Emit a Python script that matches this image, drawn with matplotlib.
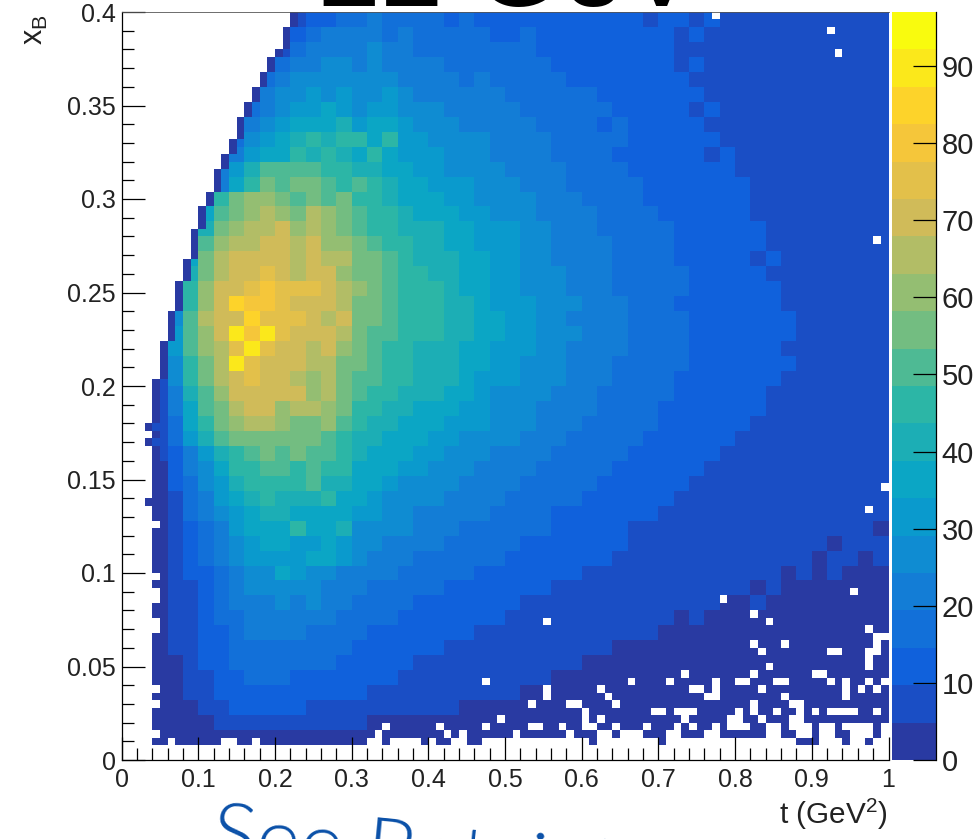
import numpy as np
import matplotlib
matplotlib.use("Agg")
import matplotlib.pyplot as plt
from matplotlib.colors import LinearSegmentedColormap, ListedColormap, BoundaryNorm

plt.rcParams['font.family'] = ['Liberation Sans', 'DejaVu Sans']
plt.rcParams['mathtext.default'] = 'regular'

W, H = 980, 839

# counts, 2x2 bin blocks, top row (x_B = 0.4) first
counts = [
 [0,0,0,0,0, 0,0,0,0,0, 0,5,11,14,16, 19,20,17,15,17, 16,14,15,14,12, 14,13,12,14,11, 12,12,10,12,9, 11,10,8,10,7, 9,8,7,9,6, 8,7,6,5,8],
 [0,0,0,0,0, 0,0,0,0,0, 4,14,18,20,22, 21,22,18,20,18, 16,18,15,16,14, 14,16,13,14,12, 13,11,12,10,11, 10,8,10,8,8, 9,6,8,7,5, 7,5,6,8,5],
 [0,0,0,0,0, 0,0,0,0,0, 8,18,22,24,23, 22,25,20,21,19, 18,17,18,15,17, 15,16,13,14,13, 12,13,10,12,10, 10,9,8,9,7, 8,7,7,5,7, 6,7,5,6,7],
 [0,0,0,0,0, 0,0,0,0,6, 15,22,24,25,26, 23,27,22,22,20, 20,18,19,17,18, 16,15,16,13,14, 14,12,13,11,11, 11,8,10,9,8, 8,6,8,7,6, 7,6,5,7,5],
 [0,0,0,0,0, 0,0,0,8,18, 24,26,28,29,27, 25,27,27,23,22, 22,21,19,20,18, 17,18,15,16,14, 14,13,13,11,12, 10,11,9,9,8, 8,7,7,6,7, 6,7,6,5,6],
 [0,0,0,0,0, 0,0,0,10,22, 26,28,31,29,32, 28,27,30,25,24, 24,22,22,20,20, 19,18,17,15,16, 15,14,12,13,12, 11,10,10,9,8, 9,8,6,7,7, 6,8,5,6,6],
 [0,0,0,0,0, 0,0,7,16,24, 29,31,33,36,31, 29,33,30,28,25, 25,24,22,21,22, 20,19,18,17,15, 15,15,13,13,11, 12,11,9,10,8, 9,7,8,6,7, 8,6,6,7,5],
 [0,0,0,0,0, 0,0,9,20,28, 32,35,38,34,40, 33,35,38,31,28, 27,26,24,23,21, 21,20,18,18,16, 17,14,15,13,13, 12,10,11,9,9, 8,9,7,8,6, 7,7,6,5,7],
 [0,0,0,0,0, 0,6,18,26,32, 35,40,44,42,44, 48,36,48,33,31, 28,28,25,25,22, 22,20,20,17,18, 16,15,15,13,12, 12,11,10,10,8, 9,8,8,6,7, 7,6,7,6,5],
 [0,0,0,0,0, 0,9,22,32,36, 38,46,42,46,41, 38,44,35,33,30, 30,28,26,25,23, 23,21,20,19,18, 17,16,14,14,13, 13,11,11,9,10, 8,9,7,8,6, 8,6,7,6,6],
 [0,0,0,0,0, 6,20,30,42,50, 52,50,52,46,44, 42,40,38,34,32, 31,29,28,26,25, 24,23,21,20,18, 18,16,16,14,14, 13,12,11,10,10, 9,9,8,8,7, 8,7,6,7,6],
 [0,0,0,0,0, 8,24,36,48,54, 52,55,58,50,48, 52,44,42,38,35, 33,32,30,28,26, 26,24,22,21,19, 19,17,17,15,14, 14,12,12,11,10, 10,9,9,7,8, 8,7,7,6,7],
 [0,0,0,0,6, 28,44,54,60,60, 58,52,58,50,54, 44,46,40,38,36, 35,33,31,29,27, 27,25,23,20,21, 19,18,16,16,14, 14,13,11,11,10, 11,9,8,8,8, 7,8,6,7,6],
 [0,0,0,0,8, 34,50,58,62,64, 60,58,64,60,56, 50,46,44,41,38, 37,36,32,31,29, 29,26,24,23,21, 20,19,17,16,15, 14,14,12,11,10, 11,9,9,8,8, 8,7,7,6,7],
 [0,0,0,0,10, 40,56,62,64,66, 68,62,66,60,56, 52,48,46,43,40, 40,37,34,32,30, 30,27,25,23,22, 21,19,18,16,16, 15,13,13,11,11, 10,10,9,8,8, 8,8,6,7,7],
 [0,0,0,8,30, 50,60,64,66,70, 70,66,70,62,60, 56,50,48,45,42, 42,38,36,33,31, 30,28,26,24,23, 21,20,18,17,15, 15,14,12,12,11, 11,10,9,8,9, 8,7,8,7,6],
 [0,0,0,10,34, 54,64,68,70,72, 70,66,70,66,64, 58,54,50,46,43, 42,39,37,34,31, 31,28,27,24,23, 22,20,18,17,16, 15,14,13,12,11, 11,9,10,8,8, 8,8,7,7,6],
 [0,0,0,13,40, 58,66,70,68,76, 70,66,68,68,62, 58,56,50,46,44, 43,41,37,35,32, 31,29,27,25,23, 22,20,19,17,16, 15,15,13,12,11, 11,10,9,9,9, 8,8,7,7,7],
 [0,0,5,20,46, 60,68,72,76,78, 74,74,74,70,66, 60,54,50,46,44, 45,41,37,36,33, 31,29,28,25,24, 22,21,19,17,17, 16,15,13,13,11, 12,10,10,9,9, 8,9,7,7,7],
 [0,0,6,24,48, 62,70,86,78,78, 74,72,70,68,64, 58,54,52,48,45, 45,41,39,36,33, 32,30,28,25,25, 22,21,20,18,17, 16,14,14,13,12, 11,11,10,9,9, 9,8,8,7,7],
 [0,0,8,28,50, 64,68,72,84,76, 76,74,68,66,68, 56,54,50,48,46, 46,43,39,37,35, 33,31,27,27,24, 23,21,20,18,17, 16,16,14,13,12, 12,11,10,10,9, 9,8,9,7,7],
 [0,0,10,30,52, 62,68,90,80,90, 76,72,70,68,64, 56,52,50,46,45, 44,41,39,36,34, 32,30,28,26,25, 23,21,20,18,18, 16,15,14,13,12, 12,11,10,10,9, 9,9,8,8,7],
 [0,0,12,30,50, 60,66,76,88,76, 70,70,64,68,60, 54,50,48,46,43, 43,41,38,35,33, 32,30,28,26,24, 23,21,20,18,17, 16,15,14,13,12, 11,11,11,9,9, 9,8,8,8,7],
 [0,0,10,28,46, 58,66,88,74,72, 70,70,64,66,58, 54,50,48,44,42, 42,40,37,34,32, 30,29,27,25,24, 22,21,19,18,16, 16,15,14,12,12, 12,10,10,10,9, 9,8,8,7,8],
 [0,0,9,26,44, 56,64,70,74,70, 72,64,62,66,58, 52,50,46,44,41, 40,39,36,33,31, 30,28,26,25,22, 22,20,18,17,16, 15,14,13,12,11, 11,10,10,9,9, 8,8,8,8,7],
 [0,0,8,24,42, 52,62,68,72,68, 68,68,62,64,56, 50,48,44,42,40, 40,36,34,33,29, 28,27,25,23,22, 21,19,18,17,15, 15,14,13,11,11, 11,10,9,9,9, 8,8,7,8,7],
 [0,0,7,20,38, 50,58,64,68,68, 60,64,64,60,54, 48,44,42,40,38, 37,36,33,30,29, 27,26,24,23,21, 20,18,17,16,15, 14,13,12,12,11, 10,10,9,9,8, 8,7,8,7,7],
 [0,2,5,18,34, 46,54,60,64,64, 62,56,58,62,50, 46,42,40,38,36, 35,33,31,30,27, 26,25,23,21,20, 19,18,16,15,15, 13,13,12,11,10, 10,9,9,8,8, 8,7,7,7,6],
 [0,2,5,16,30, 42,50,56,58,58, 56,54,56,50,48, 42,40,38,36,34, 33,32,29,28,26, 25,24,22,20,19, 18,17,16,15,14, 13,12,11,11,10, 9,9,8,8,7, 8,7,6,7,6],
 [0,2,5,13,23, 32,40,48,50,54, 52,56,52,50,46, 40,38,38,34,32, 30,29,27,27,24, 23,22,20,19,18, 17,16,15,14,13, 12,12,11,10,9, 9,9,8,7,8, 7,7,6,6,6],
 [0,2,4,12,21, 28,36,44,48,50, 52,48,50,46,44, 38,36,34,33,30, 28,27,26,24,22, 22,20,19,18,16, 16,15,14,13,12, 12,11,10,9,9, 8,8,8,7,7, 7,6,7,6,5],
 [0,2,4,10,19, 25,32,40,44,48, 46,44,50,42,42, 36,34,32,29,27, 27,25,24,22,21, 20,19,17,16,16, 15,14,13,12,11, 11,10,9,9,8, 8,7,8,6,7, 6,6,6,6,5],
 [0,2,4,9,17, 22,30,36,40,44, 42,40,42,44,38, 34,32,29,29,26, 25,24,22,21,20, 18,18,16,15,15, 13,14,12,11,10, 10,9,9,8,8, 7,8,6,7,6, 6,6,5,6,5],
 [0,2,3,8,15, 20,27,33,38,40, 40,38,37,36,34, 30,30,27,26,24, 23,22,21,20,18, 18,15,15,14,13, 12,12,11,10,10, 9,9,8,8,7, 7,6,7,6,6, 5,6,5,5,6],
 [0,2,3,8,13, 18,24,30,34,36, 38,46,34,36,40, 28,27,25,25,22, 21,21,19,19,17, 16,15,15,13,12, 12,11,11,9,9, 9,8,8,7,7, 6,7,5,6,5, 6,5,5,6,4],
 [0,2,3,7,12, 16,22,28,32,34, 34,33,32,38,32, 26,25,24,22,21, 20,19,19,17,16, 15,14,13,13,12, 11,10,10,9,9, 8,8,7,7,6, 6,6,6,5,5, 6,4,5,5,5],
 [0,2,3,6,11, 15,20,26,30,32, 32,30,34,38,32, 25,24,22,21,19, 19,18,16,16,15, 14,14,12,11,11, 10,10,9,9,8, 7,8,7,6,6, 5,6,5,5,5, 4,5,5,4,5],
 [0,2,3,6,10, 14,18,24,27,28, 34,32,28,26,24, 23,20,20,18,17, 17,16,15,14,13, 13,11,11,10,10, 9,9,8,8,7, 7,6,7,5,6, 5,5,5,4,5, 4,5,4,4,4],
 [0,2,3,6,9, 13,17,21,25,26, 28,26,25,24,22, 20,19,18,17,15, 15,14,13,13,12, 11,11,10,9,9, 8,8,8,7,6, 6,6,5,6,5, 5,4,5,4,4, 4,4,4,3,4],
 [0,2,3,5,9, 12,16,20,24,24, 25,24,26,22,20, 19,17,16,15,14, 13,13,12,11,11, 10,9,9,9,8, 7,7,7,6,6, 5,5,5,5,4, 4,5,4,4,4, 3,4,3,4,3],
 [0,2,3,5,8, 12,15,19,21,23, 23,22,21,20,18, 17,16,15,13,13, 12,12,11,10,10, 9,9,8,8,7, 7,6,6,5,5, 5,4,5,4,4, 4,3,4,3,3, 3,3,3,3,3],
 [0,2,3,5,8, 11,14,17,20,21, 24,20,19,17,17, 15,14,14,12,11, 11,10,10,9,9, 8,8,7,7,6, 6,5,5,5,5, 4,4,4,3,4, 3,3,3,3,3, 3,3,3,3,2],
 [0,2,2,5,7, 10,13,16,18,18, 19,18,16,16,15, 13,12,12,11,10, 10,9,9,8,7, 7,6,7,6,5, 5,5,4,4,4, 4,3,4,3,3, 3,3,3,3,2, 3,2,3,2,3],
 [0,2,2,4,7, 10,13,16,17,16, 17,16,15,15,13, 12,11,10,11,9, 9,8,8,7,7, 6,6,5,5,5, 4,4,4,3,4, 3,3,3,3,2, 3,2,3,2,2, 2,3,2,2,3],
 [0,2,2,4,6, 9,12,14,15,15, 16,14,14,13,12, 11,10,10,9,8, 8,7,7,6,6, 5,6,5,4,4, 4,4,3,3,3, 3,3,3,2,2, 3,2,2,2,3, 2,2,2,3,2],
 [0,2,2,4,5, 8,10,12,13,14, 13,12,12,11,11, 10,9,8,8,7, 7,6,6,5,5, 5,4,4,4,3, 4,3,3,3,2, 3,2,3,2,2, 2,2,3,2,2, 2,2,2,2,2],
 [0,2,2,3,4, 6,8,10,11,11, 10,10,9,9,8, 7,7,6,6,5, 5,5,4,4,4, 4,3,3,3,3, 2,3,2,2,2, 3,2,2,2,2, 2,2,2,3,2, 2,2,2,2,2],
 [0,2,2,3,3, 4,6,7,8,7, 7,7,6,6,5, 5,4,4,4,3, 4,3,3,3,2, 3,2,2,3,2, 2,2,2,2,2, 2,2,2,2,2, 2,2,2,2,2, 2,2,2,2,2],
 [0,0,2,2,2, 3,3,4,4,3, 4,3,3,3,3, 2,3,2,2,2, 2,2,2,2,2, 2,2,2,2,2, 2,2,2,2,2, 2,2,2,2,2, 2,2,2,2,2, 2,2,2,2,2],
 [0,0,0,0,0, 0,0,0,0,0, 0,0,0,0,0, 0,0,0,0,0, 0,0,0,0,0, 0,0,0,0,0, 0,0,0,0,0, 0,0,0,0,0, 0,0,0,0,0, 0,0,0,0,0],
]

# first filled t bin in each x_B row, top row first (100 = row is empty)
first_bin = [22,22,21,21,21,20,19,19,18,18,17,17,16,16,15,15,15,14,14,13,13,12,12,12,11,11,
             10,10,10,9,9,9,9,8,8,8,7,7,7,7,6,6,6,6,5,5,5,5,5,4,4,4,4,4,4,3,4,3,
             4,4,4,4,4,4,4,3,4,4,5,4,4,4,4,4,4,5,4,5,5,4,4,5,5,4,4,4,4,4,4,4,5,4,5,4,4,4,5,4,100,100]

# bins of the lowest filled row past t = 0.32, and the empty bins per x_B row
row2_filled = [34, 39, 41, 42, 45, 46, 61, 70, 88, 89, 90, 94, 97]
row2_gaps = [6, 13, 14, 17]
empty_bins = {
    3: [33,42,44,51,58,62,63,65,66,67,71,72,76,77,84,85,88,89,91,92,95,96,97,99],
    4: [34,41,47,53,54,57,60,61,64,68,72,74,77,79,80,81,84,85,87,88,89,91,92,94,95,96,97,99],
    5: [49,60,62,73,79,80,83,87,88],
    6: [60,69,70,72,73,74,80,82,85,88,90,92,93,94,95,98],
    7: [53,58,59,64,82,87,88],
    8: [55,63,76,77,86,94],
    9: [55,62,74,75,77,83,94,96,98],
    10: [47,66,71,77,80,81,85,86,92,94,97,99],
    11: [73,82,90,91],
    12: [84,97],
    13: [97],
    14: [83,92,93,97,98],
    15: [82,86,98],
    16: [98,99],
    17: [97],
    18: [55,84],
    19: [82],
    21: [78],
    22: [95],
    33: [97],
    36: [99],
    69: [98],
    94: [93],
    97: [92],
    99: [77],
}
edge_count = 3

xticks = [0, 0.1, 0.2, 0.3, 0.4, 0.5, 0.6, 0.7, 0.8, 0.9, 1]
xlabels = ["0", "0.1", "0.2", "0.3", "0.4", "0.5", "0.6", "0.7", "0.8", "0.9", "1"]
yticks = [0, 0.05, 0.1, 0.15, 0.2, 0.25, 0.3, 0.35, 0.4]
ylabels = ["0", "0.05", "0.1", "0.15", "0.2", "0.25", "0.3", "0.35", "0.4"]
zticks = [0, 10, 20, 30, 40, 50, 60, 70, 80, 90]

# ROOT kBird palette, 20 contour levels
bird = [(0.2082, 0.1664, 0.5293), (0.0592, 0.3599, 0.8684), (0.0780, 0.5041, 0.8385),
        (0.0232, 0.6419, 0.7914), (0.1802, 0.7178, 0.6425), (0.5301, 0.7492, 0.4662),
        (0.8186, 0.7328, 0.3499), (0.9956, 0.7862, 0.1968), (0.9764, 0.9832, 0.0539)]
ramp = LinearSegmentedColormap.from_list("bird", bird, N=256)
cmap = ListedColormap(ramp(np.linspace(0.04, 1, 20)))
zmax = 97
levels = np.linspace(0, zmax, 21)
norm = BoundaryNorm(levels, 20)

hist = np.repeat(np.repeat(np.array(counts[::-1], dtype=float), 2, axis=0), 2, axis=1)
for k, start in enumerate(first_bin):
    r = 99 - k
    hist[r, :start] = np.nan
    if start < 100:
        hist[r, start] = edge_count
for b in range(32, 100):
    if b not in row2_filled:
        hist[2, b] = np.nan
for b in row2_gaps:
    hist[2, b] = np.nan
for r, bins in empty_bins.items():
    hist[r, bins] = np.nan

fig = plt.figure(figsize=(W / 100, H / 100), dpi=100)
L, R, T, B = 121.5, 888.5, 12, 760
ax = fig.add_axes([L / W, 1 - B / H, (R - L) / W, (B - T) / H])
xedges = np.linspace(0, 1, 101)
yedges = np.linspace(0, 0.4, 101)
mesh = ax.pcolormesh(xedges, yedges, np.ma.masked_invalid(hist), cmap=cmap, norm=norm, antialiased=False)
ax.set_xlim(0, 1)
ax.set_ylim(0, 0.4)
ax.set_xticks(xticks)
ax.set_xticklabels(xlabels)
ax.set_yticks(yticks)
ax.set_yticklabels(ylabels)
ax.set_xticks(np.arange(0, 101, 2) / 100, minor=True)
ax.set_yticks(np.arange(0, 41) / 100, minor=True)
ax.tick_params(which='major', direction='in', length=16.5, width=0.9, labelsize=18,
               labelcolor='#222222', pad=6)
ax.tick_params(which='minor', direction='in', length=8.6, width=0.9)
ax.tick_params(axis='y', pad=4)
ax.spines['right'].set_visible(False)
ax.spines['top'].set_linewidth(0.6)
ax.spines['top'].set_color('#555555')
ax.spines['left'].set_linewidth(0.9)
ax.spines['bottom'].set_linewidth(0.9)

cax = fig.add_axes([892 / W, 1 - B / H, 44 / W, (B - T) / H])
cb = fig.colorbar(mesh, cax=cax, ticks=zticks, spacing='proportional')
cb.outline.set_visible(False)
cb.minorticks_off()
cax.spines['right'].set_visible(True)
cax.spines['right'].set_linewidth(0.9)
cax.tick_params(axis='y', direction='in', length=16.5, width=0.9, labelsize=21,
                labelcolor='#222222', pad=4, right=True, left=False)

fig.text(888 / W, 1 - 824 / H, r"t (GeV$^{2}$)", ha='right', va='baseline', fontsize=21.4, color='#222222')
fig.text(50 / W, 1 - 14 / H, r"x$_{B}$", rotation=90, ha='right', va='top', fontsize=22, color='#222222')

# slide title and caption that run off the crop, the caption is tilted in the source
fig.text(318 / W, 1 - 6 / H, "22 GeV", ha='left', va='baseline', fontsize=81, color='black')
fig.text(210 / W, 1 - 861 / H, "See Retaining", ha='left', va='baseline', fontsize=60,
         color='#0a50a8', family=['Lato', 'DejaVu Sans'], fontweight=300,
         rotation=-5.6, rotation_mode='anchor')

fig.savefig("out.png", dpi=100)
